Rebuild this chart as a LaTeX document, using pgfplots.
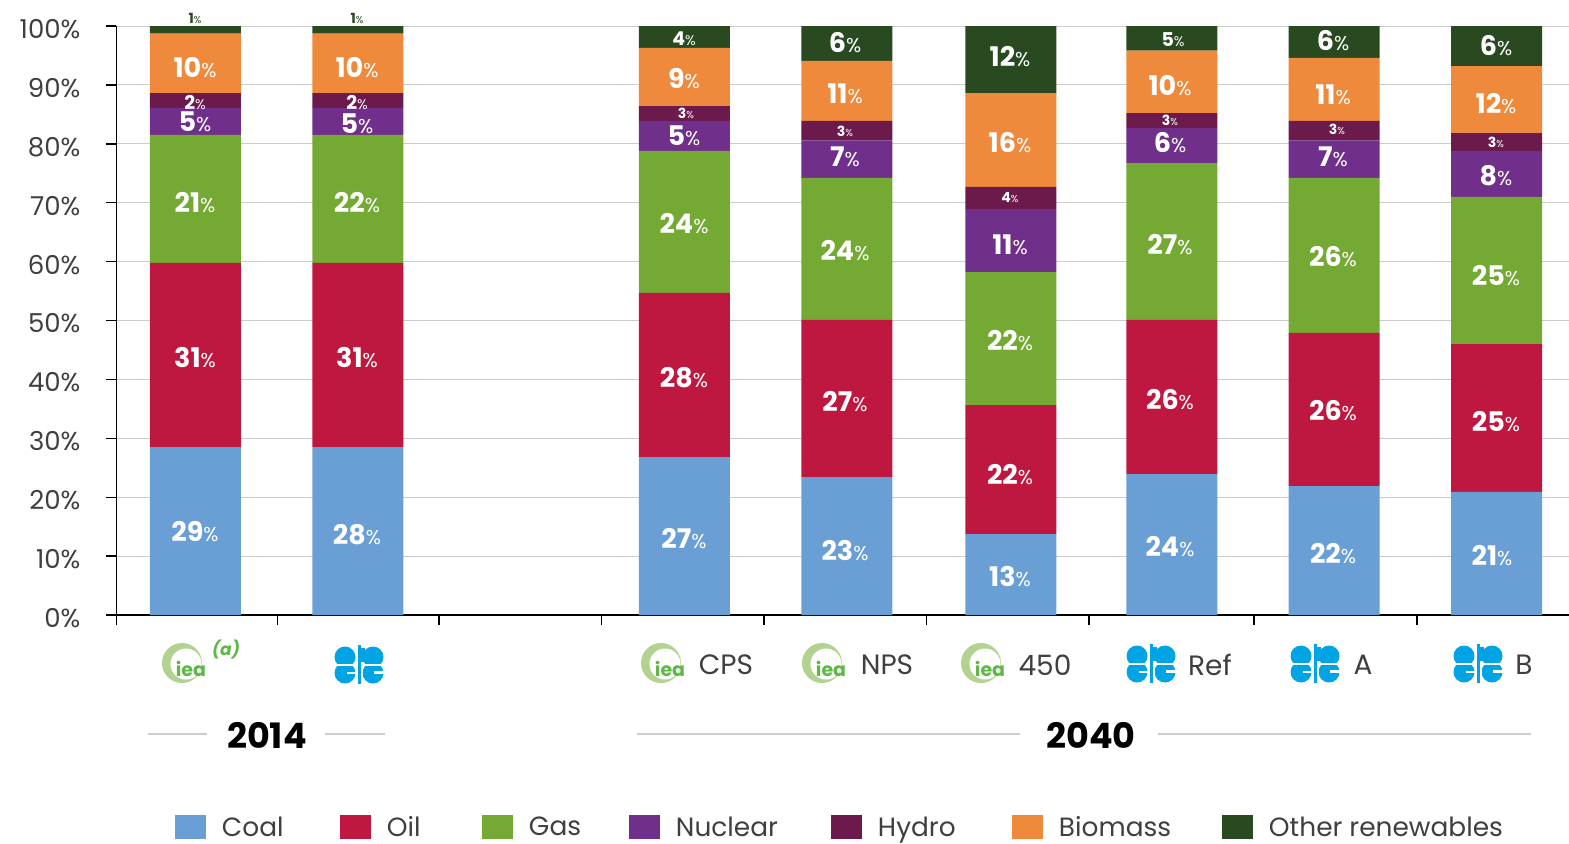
\documentclass[border=0pt]{standalone}
\usepackage{pgfplots}
\pgfplotsset{compat=1.18}
\usepackage{fontspec}
\setmainfont{Poppins}
\definecolor{ccoal}{HTML}{6A9FD6}
\definecolor{coil}{HTML}{BE1840}
\definecolor{cgas}{HTML}{74A933}
\definecolor{cnuc}{HTML}{702F8A}
\definecolor{chyd}{HTML}{6B1A4B}
\definecolor{cbio}{HTML}{EF8A3C}
\definecolor{coth}{HTML}{294A21}
\definecolor{ticktext}{HTML}{3F3F3F}
\definecolor{iearing}{HTML}{B1D38F}
\definecolor{ieatext}{HTML}{5DB847}
\definecolor{opec}{HTML}{00A3E4}
% x coal oil gas nuclear hydro biomass other
\pgfplotstableread{
x coal oil gas nuclear hydro biomass other
0 28.5 31.3 21.7 4.6 2.5 10.1 1.3
1 28.5 31.3 21.7 4.6 2.5 10.1 1.3
3.01 26.8 27.9 24.1 5.1 2.5 9.9 3.7
4.01 23.4 26.7 24.1 6.4 3.3 10.2 5.9
5.02 13.75 21.9 22.55 10.7 3.8 15.9 11.4
6.01 23.9 26.2 26.6 6.0 2.5 10.6 4.2
7.01 21.9 26.0 26.3 6.4 3.3 10.7 5.4
8.01 20.9 25.1 25.0 7.8 3.0 11.4 6.8
}\datatable
\newcommand\lab[5]{\node[text=white,inner sep=0pt] at (#1,#2) {\fontsize{#4}{#4}\selectfont\textbf{#3}\fontsize{#5}{#5}\selectfont\%};}
\newcommand\bgl[3]{\lab{#1}{#2}{#3}{13.5pt}{10pt}}
\newcommand\midl[3]{\lab{#1}{#2}{#3}{9.5pt}{7pt}}
\newcommand\sml[3]{\lab{#1}{#2}{#3}{7pt}{5pt}}
\newcommand\ieal[2]{%
  \fill[iearing] (#1,#2) circle (20);
  \fill[white] (#1+4,#2+1) circle (15.5);
  \node[text=ieatext,inner sep=0pt] at (#1+9,#2+6) {\fontsize{9.5pt}{9.5pt}\selectfont\textbf{iea}};
}
\newcommand\opecl[2]{%
  \begin{scope}[shift={(#1,#2)}]
  \fill[opec] (-14,-7) circle (10.5);
  \fill[opec] (14,-7) circle (10.5);
  \fill[opec] (-14,9) circle (10.5);
  \fill[opec] (14,9) circle (10.5);
  \fill[white] (-27,0) rectangle (27,2);
  \fill[white] (-3.5,-20) rectangle (3.5,21);
  \fill[white] (-12,8) rectangle (-3,10);
  \fill[white] (15,7) rectangle (26,10);
  \fill[opec] (-1.5,-19) rectangle (1.5,20);
  \fill[opec] (0,-16) rectangle (6,-2);
  \end{scope}
}
\newcommand\leg[2]{\makebox[#1][l]{\vphantom{Bg}#2}}
\begin{document}
\begin{tikzpicture}
\path[use as bounding box] (-58.25pt,-114pt) rectangle (726.25pt,307.5pt);
\begin{axis}[
  at={(0pt,0pt)}, anchor=south west,
  scale only axis, width=726.25pt, height=294.5pt,
  ybar stacked, bar width=45.5pt,
  xmin=-0.485, xmax=8.455, ymin=0, ymax=100,
  axis x line=bottom, axis y line=left, axis line style={-,black,line width=0.7pt},
  xtick={-0.485,0.505,1.5,2.5,3.5,4.5,5.5,6.517,7.52},
  xticklabels={},
  ytick={0,10,...,100},
  yticklabel={\pgfmathprintnumber{\tick}\%},
  tick align=outside,
  major tick length=5pt,
  tick style={black,line width=0.7pt},
  ymajorgrids,
  grid style={line width=0.5pt,black!20},
  /pgf/number format/assume math mode=true,
  yticklabel style={font=\fontsize{13pt}{13pt}\selectfont,text=ticktext,xshift=-9.5pt,yshift=-1.5pt},
  clip=false,
  legend columns=-1,
  legend style={draw=none,fill=none,inner sep=0pt,outer sep=0pt,
    at={(rel axis cs:0,0)},anchor=west,xshift=29.25pt,yshift=-106pt,
    font=\fontsize{13.2pt}{13.2pt}\selectfont\color{ticktext},
    /tikz/every odd column/.append style={column sep=8pt},
    /tikz/every even column/.append style={column sep=0pt},
    nodes={inner sep=0pt,outer sep=0pt}},
  legend image code/.code={\fill[#1,draw=none] (0pt,-5.5pt) rectangle (15.5pt,6.5pt);},
]
\addplot[fill=ccoal,draw=none] table[x=x,y=coal]{\datatable};
\addplot[fill=coil,draw=none] table[x=x,y=oil]{\datatable};
\addplot[fill=cgas,draw=none] table[x=x,y=gas]{\datatable};
\addplot[fill=cnuc,draw=none] table[x=x,y=nuclear]{\datatable};
\addplot[fill=chyd,draw=none] table[x=x,y=hydro]{\datatable};
\addplot[fill=cbio,draw=none] table[x=x,y=biomass]{\datatable};
\addplot[fill=coth,draw=none] table[x=x,y=other]{\datatable};
\legend{\leg{59pt}{Coal},\leg{47.5pt}{Oil},\leg{50pt}{Gas},\leg{77.5pt}{Nuclear},\leg{67pt}{Hydro},\leg{81.5pt}{Biomass},\vphantom{Bg}Other renewables}
\end{axis}
% image pixel coordinates
\begin{scope}[shift={(-58.25pt,307.5pt)},x=0.5pt,y=-0.5pt]
\bgl{195}{532}{29}\bgl{195}{358}{31}\bgl{195}{203}{21}\bgl{195}{122}{5}\midl{195}{102}{2}\bgl{195}{68}{10}
\bgl{357}{535}{28}\bgl{357}{358}{31}\bgl{357}{203}{22}\bgl{357}{124}{5}\midl{357}{102}{2}\bgl{357}{68}{10}
\node[inner sep=0pt,text=coth] at (195,18) {\fontsize{7pt}{7pt}\selectfont\textbf{1}\fontsize{5pt}{5pt}\selectfont\%};
\node[inner sep=0pt,text=coth] at (357,18) {\fontsize{7pt}{7pt}\selectfont\textbf{1}\fontsize{5pt}{5pt}\selectfont\%};
\bgl{684}{539}{27}\bgl{684}{378}{28}\bgl{684}{224}{24}\bgl{684}{136}{5}\sml{686}{113}{3}\bgl{684}{79}{9}\midl{684}{39}{4}
\bgl{845}{551}{23}\bgl{845}{402}{27}\bgl{845}{251}{24}\bgl{845}{157}{7}\sml{845}{131}{3}\bgl{845}{94}{11}\bgl{845}{43}{6}
\bgl{1010}{577}{13}\bgl{1010}{475}{22}\bgl{1010}{341}{22}\bgl{1010}{245}{11}\sml{1010}{198}{4}\bgl{1010}{143}{16}\bgl{1010}{57}{12}
\bgl{1170}{547}{24}\bgl{1170}{400}{26}\bgl{1170}{245}{27}\bgl{1170}{143}{6}\sml{1170}{120}{3}\bgl{1170}{86}{10}\midl{1173}{40}{5}
\bgl{1333}{554}{22}\bgl{1333}{411}{26}\bgl{1333}{257}{26}\bgl{1333}{157}{7}\sml{1337}{129}{3}\bgl{1333}{95}{11}\bgl{1333}{41}{6}
\bgl{1492}{556}{21}\bgl{1496}{422}{25}\bgl{1496}{276}{25}\bgl{1496}{176}{8}\sml{1496}{142}{3}\bgl{1496}{104}{12}\bgl{1496}{46}{6}
% logos
\ieal{182}{663}\ieal{661}{663}\ieal{822}{663}\ieal{981}{663}
\node[text=ieatext,inner sep=0pt] at (226,650) {\fontsize{8.5pt}{8.5pt}\selectfont\textbf{\textit{(a)}}};
\opecl{359}{664}\opecl{1151}{663}\opecl{1315}{663}\opecl{1478}{663}
\foreach \x/\t in {726/CPS,887/NPS,1045/450,1210/Ref,1363/A,1524/B}
  \node[text=ticktext,inner sep=0pt] at (\x,665) {\fontsize{14pt}{14pt}\selectfont\t};
% group headers
\draw[black!20,line width=0.7pt] (148,734)--(207,734) (325,734)--(385,734) (637,734)--(1020,734) (1158,734)--(1531,734);
\node[inner sep=0pt] at (267,735) {\fontsize{17.5pt}{17.5pt}\selectfont\textbf{2014}};
\node[inner sep=0pt] at (1091,735) {\fontsize{17.5pt}{17.5pt}\selectfont\textbf{2040}};
\end{scope}
\end{tikzpicture}
\end{document}
